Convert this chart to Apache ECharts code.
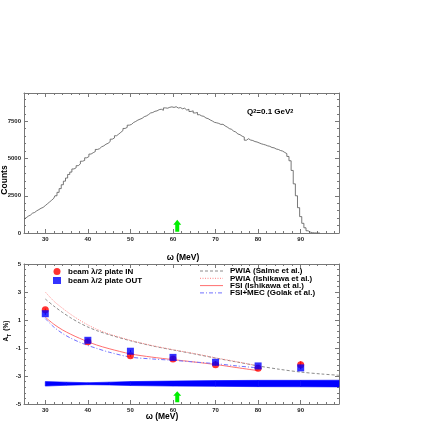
<!DOCTYPE html>
<html>
<head>
<meta charset="utf-8">
<script src="https://cdn.jsdelivr.net/npm/echarts@6/dist/echarts.min.js"></script>
<style>html,body{margin:0;padding:0;background:#fff}#c{width:436px;height:436px}</style>
</head>
<body>
<div id="c"></div>
<script>
// ---------- DATA ----------
// Top panel: omega spectrum (counts), 0.5 MeV bins starting at 25 MeV
const histStart = 25;
const histBin = 0.5;
const counts = [
  940,1020,1130,1200,1330,1380,1490,1570,1660,1720,
  1840,1960,2080,2200,2330,2500,2730,2980,3240,3480,
  3690,3930,4090,4300,4380,4520,4640,4820,4870,5050,
  5130,5300,5390,5470,5610,5660,5790,5850,5960,6020,
  6140,6300,6380,6530,6640,6760,6880,7020,7090,7240,
  7290,7420,7490,7580,7640,7700,7810,7860,7950,8060,
  8090,8170,8200,8280,8310,8240,8400,8380,8440,8470,
  8430,8480,8390,8420,8340,8380,8250,8310,8160,8200,
  8060,8090,7940,7860,7830,7720,7680,7590,7520,7430,
  7400,7360,7290,7300,7190,7110,7010,6960,6840,6780,
  6650,6600,6500,6440,6230,6330,6240,6210,6140,6110,
  6050,5990,5950,5910,5850,5820,5740,5720,5640,5610,
  5540,5500,5410,5330,5140,4850,4200,3300,2500,1700,
  1100,650,350,150,60,20,8,3,0,0
];

// Bottom panel: asymmetry A_T (%)
const omegaPts = [30, 40, 50, 60, 70, 80, 90];
const atIn     = [1.74, -0.55, -1.55, -1.79, -2.19, -2.45, -2.20];
const atInErr  = [0.08, 0.08, 0.08, 0.08, 0.08, 0.08, 0.25];
const atOut    = [1.45, -0.45, -1.23, -1.67, -2.02, -2.28, -2.42];
const atOutErr = [0.08, 0.08, 0.08, 0.08, 0.08, 0.08, 0.10];

// Theory curves
const thX        = [30, 32, 34, 36, 38, 40, 42, 45, 50, 55, 60, 65, 70, 75, 80, 85, 90, 95, 99];
const pwiaSalme  = [2.50, 2.00, 1.55, 1.15, 0.80, 0.50, 0.25, -0.05, -0.48, -0.84, -1.14, -1.42, -1.72, -2.00, -2.28, -2.52, -2.72, -2.86, -2.95];
const thX2       = [30, 32, 34, 36, 38, 40, 42, 45, 50, 55, 60, 65, 70, 75, 80];
const pwiaIshi   = [3.00, 2.35, 1.85, 1.40, 1.00, 0.65, 0.35, 0.00, -0.45, -0.82, -1.12, -1.40, -1.70, -1.98, -2.28];
const fsiIshi    = [1.20, 0.70, 0.30, -0.02, -0.30, -0.55, -0.78, -1.05, -1.42, -1.65, -1.83, -2.00, -2.18, -2.40, -2.62];
const fsiMecGolak= [1.10, 0.50, 0.05, -0.30, -0.58, -0.82, -1.02, -1.30, -1.65, -1.78, -1.88, -2.00, -2.12, -2.28, -2.42];

// Systematic-error band
const bandX    = [30, 35, 40, 45, 50, 60, 70, 80, 90, 99];
const bandLow  = [-3.72, -3.66, -3.62, -3.64, -3.68, -3.72, -3.74, -3.76, -3.77, -3.78];
const bandHigh = [-3.40, -3.44, -3.48, -3.44, -3.40, -3.36, -3.33, -3.31, -3.31, -3.30];

// Arrow position (omega, MeV)
const arrowOmega = 61;

// Names
const nameIn  = 'beam \u03bb/2 plate IN';
const nameOut = 'beam \u03bb/2 plate OUT';
const curveNames = ['PWIA (Salme et al.)', 'PWIA (Ishikawa et al.)', 'FSI (Ishikawa et al.)', 'FSI+MEC (Golak et al.)'];

// ---------- BUILD ----------
const FONT = 'Liberation Sans, Arial, Helvetica, sans-serif';
const histData = counts.map((v, i) => [histStart + i * histBin, v]);
const pairs = (xs, ys) => xs.map((x, i) => [x, ys[i]]);

const curveStyles = [
  { color: '#8c8c8c', type: [3, 2] },
  { color: '#ff8080', type: [1, 1.5] },
  { color: '#ff7070', type: 'solid' },
  { color: '#7070ff', type: [4, 2, 1, 2] }
];
const curveData = [pairs(thX, pwiaSalme), pairs(thX2, pwiaIshi), pairs(thX2, fsiIshi), pairs(thX2, fsiMecGolak)];

const axisLineStyle = { lineStyle: { color: '#777', width: 1 } };
function xAx(grid, pos, labels) {
  return {
    gridIndex: grid, type: 'value', min: 25, max: 99, splitNumber: 7, position: pos,
    axisLine: { show: true, onZero: false, ...axisLineStyle },
    axisTick: { show: true, inside: true, length: 4, lineStyle: { color: '#777' } },
    minorTick: { show: true, splitNumber: 5, length: 2, lineStyle: { color: '#777' } },
    splitLine: { show: false },
    axisLabel: { show: labels, fontSize: 6, fontWeight: 'bold', fontFamily: FONT, color: '#222', margin: 3,
      formatter: v => (Math.abs(v % 10) < 1e-9 ? String(v) : '') }
  };
}
function yAx(grid, pos, labels, min, max, interval, showMin, showMax) {
  return {
    gridIndex: grid, type: 'value', min: min, max: max, interval: interval, position: pos,
    axisLine: { show: true, onZero: false, ...axisLineStyle },
    axisTick: { show: true, inside: true, length: 4, lineStyle: { color: '#777' } },
    minorTick: { show: true, splitNumber: 5, length: 2, lineStyle: { color: '#777' } },
    splitLine: { show: false },
    axisLabel: { show: labels, fontSize: 6, fontWeight: 'bold', fontFamily: FONT, color: '#222', margin: 3,
      showMinLabel: showMin, showMaxLabel: showMax, formatter: v => String(v) }
  };
}

const arrowPath = 'path://M4,0 L8,5 L6,5 L6,12 L2,12 L2,5 L0,5 Z';

// band segments: each item = one quad between consecutive x
const bandSegs = bandX.slice(0, -1).map((x, i) => [x, bandLow[i], bandHigh[i], bandX[i + 1], bandLow[i + 1], bandHigh[i + 1]]);

const series = [
  { type: 'line', name: 'spectrum', xAxisIndex: 0, yAxisIndex: 0, data: histData, step: 'middle',
    symbol: 'none', lineStyle: { color: '#555', width: 0.8 }, z: 3,
    markPoint: { symbol: arrowPath, symbolSize: [8, 12], silent: true, label: { show: false },
      itemStyle: { color: '#00ee00' }, data: [{ coord: [arrowOmega, 490] }] } },
  { type: 'custom', name: 'band', xAxisIndex: 2, yAxisIndex: 2, z: 1, data: bandSegs,
    renderItem: (params, api) => {
      const p1 = api.coord([api.value(0), api.value(1)]);
      const p2 = api.coord([api.value(0), api.value(2)]);
      const p3 = api.coord([api.value(3), api.value(5)]);
      const p4 = api.coord([api.value(3), api.value(4)]);
      return { type: 'polygon', shape: { points: [p1, p2, p3, p4] },
        style: { fill: '#0000ff', stroke: '#0000ff', lineWidth: 0.6 } };
    } }
];
curveNames.forEach((n, k) => {
  series.push({ type: 'line', name: n, xAxisIndex: 2, yAxisIndex: 2, data: curveData[k], symbol: 'none',
    showSymbol: false, smooth: 0.3, color: curveStyles[k].color,
    lineStyle: { color: curveStyles[k].color, width: 1, type: curveStyles[k].type }, z: 2 });
});
series.push(
  { type: 'custom', name: 'errors', xAxisIndex: 2, yAxisIndex: 2, z: 3,
    data: omegaPts.map((x, i) => [x, atIn[i], atInErr[i], atOut[i], atOutErr[i]]),
    renderItem: (params, api) => {
      const x = api.value(0);
      const a = api.coord([x, api.value(1) - api.value(2)]);
      const b = api.coord([x, api.value(1) + api.value(2)]);
      const c = api.coord([x, api.value(3) - api.value(4)]);
      const d = api.coord([x, api.value(3) + api.value(4)]);
      return { type: 'group', children: [
        { type: 'line', shape: { x1: a[0], y1: a[1], x2: b[0], y2: b[1] }, style: { stroke: '#ff0000', lineWidth: 1 } },
        { type: 'line', shape: { x1: c[0], y1: c[1], x2: d[0], y2: d[1] }, style: { stroke: '#0000ff', lineWidth: 1 } }
      ] };
    } },
  { type: 'scatter', name: nameIn, xAxisIndex: 2, yAxisIndex: 2, data: pairs(omegaPts, atIn),
    symbol: 'circle', symbolSize: 7, itemStyle: { color: '#ff0000' }, z: 4,
    markPoint: { symbol: arrowPath, symbolSize: [8, 11], silent: true, label: { show: false },
      itemStyle: { color: '#00ee00' }, data: [{ coord: [arrowOmega, -4.48] }] } },
  { type: 'scatter', name: nameOut, xAxisIndex: 2, yAxisIndex: 2, data: pairs(omegaPts, atOut),
    symbol: 'rect', symbolSize: 7, itemStyle: { color: '#0000ff' }, z: 5 }
);

// manual legend for theory curves (line swatches + text)
const legendRowsY = [271, 278.3, 285.6, 292.9];
const curveLegend = [];
curveNames.forEach((n, k) => {
  const st = curveStyles[k];
  curveLegend.push({ type: 'line', shape: { x1: 200, y1: legendRowsY[k], x2: 223, y2: legendRowsY[k] },
    style: { stroke: st.color, lineWidth: 1, lineDash: st.type === 'solid' ? null : st.type } });
  curveLegend.push({ type: 'text', x: 230, y: legendRowsY[k],
    style: { text: n, font: 'bold 8px ' + FONT, fill: '#000', textAlign: 'left', textVerticalAlign: 'middle' } });
});

const option = {
  animation: false,
  backgroundColor: '#fff',
  textStyle: { fontFamily: FONT },
  grid: [
    { left: 24, top: 93, width: 315, height: 140 },
    { left: 24, top: 264, width: 315, height: 140 }
  ],
  xAxis: [ xAx(0, 'bottom', true), xAx(0, 'top', false), xAx(1, 'bottom', true), xAx(1, 'top', false) ],
  yAxis: [
    yAx(0, 'left', true, 0, 9400, 2500, true, false),
    yAx(0, 'right', false, 0, 9400, 2500, true, false),
    yAx(1, 'left', true, -5, 5, 2, true, true),
    yAx(1, 'right', false, -5, 5, 2, true, true)
  ],
  legend: [
    { left: 53, top: 267.5, orient: 'vertical', padding: 0, itemWidth: 8, itemHeight: 7, itemGap: 1,
      selectedMode: false, data: [nameIn, nameOut],
      textStyle: { fontSize: 8, fontWeight: 'bold', fontFamily: FONT, color: '#000', padding: [0,0,0,2], lineHeight: 8 } }
  ],
  series: series,
  graphic: [
    { type: 'text', x: 5, y: 180, rotation: Math.PI / 2,
      style: { text: 'Counts', font: 'bold 8.5px ' + FONT, fill: '#000', textAlign: 'center', textVerticalAlign: 'middle' } },
    { type: 'text', x: 183, y: 258,
      style: { text: '\u03c9 (MeV)', font: 'bold 8.5px ' + FONT, fill: '#000', textAlign: 'center', textVerticalAlign: 'middle' } },
    { type: 'text', x: 162, y: 416.5,
      style: { text: '\u03c9 (MeV)', font: 'bold 8.5px ' + FONT, fill: '#000', textAlign: 'center', textVerticalAlign: 'middle' } },
    { type: 'text', x: 6, y: 331, rotation: Math.PI / 2,
      style: { text: '{a|A}{s|T} {a|(%)}', textAlign: 'center', textVerticalAlign: 'middle',
        rich: { a: { fontSize: 6.5, fontWeight: 'bold', fontFamily: FONT, fill: '#000' },
                s: { fontSize: 4.5, fontWeight: 'bold', fontFamily: FONT, fill: '#000', verticalAlign: 'bottom' } } } },
    { type: 'text', x: 247, y: 112,
      style: { text: '{a|Q}{s|2}{a|=0.1 GeV}{s|2}', textAlign: 'left', textVerticalAlign: 'middle',
        rich: { a: { fontSize: 8, fontWeight: 'bold', fontFamily: FONT, fill: '#000' },
                s: { fontSize: 5.5, fontWeight: 'bold', fontFamily: FONT, fill: '#000', verticalAlign: 'top' } } } },
    { type: 'group', children: curveLegend }
  ]
};

const chart = echarts.init(document.getElementById('c'), null, { renderer: 'canvas' });
chart.setOption(option);
</script>
</body>
</html>
